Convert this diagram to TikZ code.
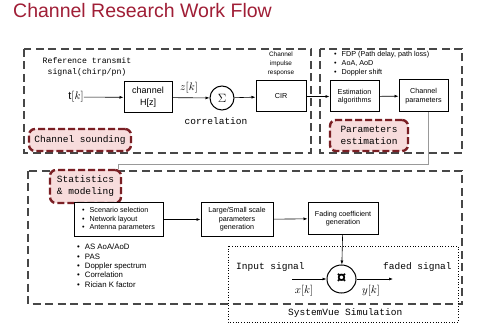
\documentclass[tikz,border=0pt]{standalone}
\usepackage{fontspec}
\setmainfont{Liberation Sans}
\setmonofont{Liberation Mono}
\usetikzlibrary{arrows.meta,shapes.geometric}
\definecolor{titlered}{HTML}{A01E36}
\definecolor{tagred}{HTML}{7A1F24}
\definecolor{tagfill}{HTML}{F7DCDC}
\tikzset{
  region/.style={draw=black!72, line width=1.4pt, dash pattern=on 8pt off 4.5pt},
  blk/.style={draw, line width=1pt, fill=white, align=center, inner sep=1pt, font=\fontsize{7.2}{8.5}\selectfont},
  tagbox/.style={draw=tagred, fill=tagfill, line width=2.4pt, dash pattern=on 7pt off 3pt, rounded corners=6pt, align=left, inner sep=1pt, font=\ttfamily\fontsize{9.5}{12}\selectfont},
  arr/.style={-{Latex[length=4pt,width=3pt]}, line width=0.6pt},
  mono/.style={font=\ttfamily\fontsize{9.5}{11}\selectfont, inner sep=0pt},
  small/.style={font=\fontsize{7.2}{9}\selectfont, inner sep=0pt, align=left},
}
\begin{document}
\begin{tikzpicture}[x=1pt,y=-1pt]
\useasboundingbox[fill=white] (0,0) rectangle (494,336);

% title
\node[anchor=west, text=titlered, font=\fontsize{19.5}{22}\selectfont, inner sep=0pt] (title) at (13,11) {Channel Research Work Flow};

% region boxes
\draw[region] (24,49) rectangle (311,153);
\draw[region] (320,49) rectangle (462,153);
\draw[region] (28,171) rectangle (462,304);
\draw[line width=0.7pt, dotted] (228,246) rectangle (458,322);

% top-left content
\node[font=\ttfamily\fontsize{8.2}{11.5}\selectfont, align=center, inner sep=0pt] (ref) at (87,67) {Reference transmit\\signal(chirp/pn)};
\node[inner sep=0pt, font=\fontsize{11}{12}\selectfont] (tk) at (76,97) {$\mathrm{t}[k]$};
\node[blk, minimum width=48pt, minimum height=31pt, font=\fontsize{9}{12}\selectfont] (ch) at (148,97.5) {channel\\H[z]};
\node[draw, circle, line width=1pt, minimum size=24pt, inner sep=0pt, font=\fontsize{12}{12}\selectfont] (sig) at (222,98) {$\Sigma$};
\node[inner sep=0pt, font=\fontsize{11}{12}\selectfont] (zk) at (189,88) {$z[k]$};
\node[mono] (corr) at (216,121) {correlation};
\node[blk, minimum width=50pt, minimum height=31pt] (cir) at (281,96.5) {CIR};
\node[small, align=center, font=\fontsize{6.4}{8.8}\selectfont] (cirl) at (281,64) {Channel\\impulse\\response};
\node[tagbox, minimum width=102pt, minimum height=22pt] (snd) at (80,140) {Channel sounding};

\draw[arr] (tk) -- (ch);
\draw[arr] (ch) -- (sig);
\draw[arr] (sig) -- (cir);

% top-right content
\node[small, anchor=north west] (plist) at (334,51) {•\hspace{5pt}FDP (Path delay, path loss)\\•\hspace{5pt}AoA, AoD\\•\hspace{5pt}Doppler shift};
\node[blk, minimum width=49pt, minimum height=31pt] (est) at (354.5,96.5) {Estimation\\algorithms};
\node[blk, minimum width=49pt, minimum height=32pt] (chp) at (423.5,96) {Channel\\parameters};
\node[tagbox, minimum width=78pt, minimum height=31pt, align=center] (pest) at (369,135.5) {Parameters\\estimation};

\draw[arr] (cir) -- (est);
\draw[arr] (est) -- (chp);

% bottom content
\node[tagbox, minimum width=71pt, minimum height=33pt] (stat) at (85.5,186.5) {Statistics\\\& modeling};
\draw[black!40, line width=0.8pt] ([xshift=5pt]chp.south) -- ++(0,52) -| ([xshift=33pt]stat.north);

\node[blk, minimum width=89pt, minimum height=33pt, align=left] (scn) at (118.5,219.5) {•\hspace{5pt}Scenario selection\\•\hspace{5pt}Network layout\\•\hspace{5pt}Antenna parameters};
\node[blk, minimum width=72pt, minimum height=33pt] (lss) at (237,219.5) {Large/Small scale\\parameters\\generation};
\node[blk, minimum width=70pt, minimum height=31pt] (fad) at (343,218.5) {Fading coefficient\\generation};
\node[small, anchor=north west, font=\fontsize{7.8}{9.3}\selectfont] (blist) at (77,244) {•\hspace{5pt}AS AoA/AoD\\•\hspace{5pt}PAS\\•\hspace{5pt}Doppler spectrum\\•\hspace{5pt}Correlation\\•\hspace{5pt}Rician K factor};

\draw[arr] (scn) -- (lss);
\draw[arr] (lss) -- (fad);

% SystemVue part
\node[draw, ellipse, line width=1pt, minimum width=29pt, minimum height=28pt, inner sep=0pt, font=\bfseries\fontsize{17}{17}\selectfont] (mul) at (341.5,279) {¤};
\coordinate (xin) at (292,279);
\coordinate (yout) at (393,279);
\draw[arr] (fad) -- (mul);
\draw[arr] (xin) -- (mul);
\draw[arr] (mul) -- (yout);
\node[mono, anchor=west] (insig) at (236,267) {Input signal};
\node[mono, anchor=west] (fsig) at (383,267) {faded signal};
\node[inner sep=0pt, font=\fontsize{11}{12}\selectfont] (xk) at (304,291) {$x[k]$};
\node[inner sep=0pt, font=\fontsize{11}{12}\selectfont] (yk) at (371,291) {$y[k]$};
\node[mono, anchor=west] (svs) at (288,313) {SystemVue Simulation};
\end{tikzpicture}
\end{document}
